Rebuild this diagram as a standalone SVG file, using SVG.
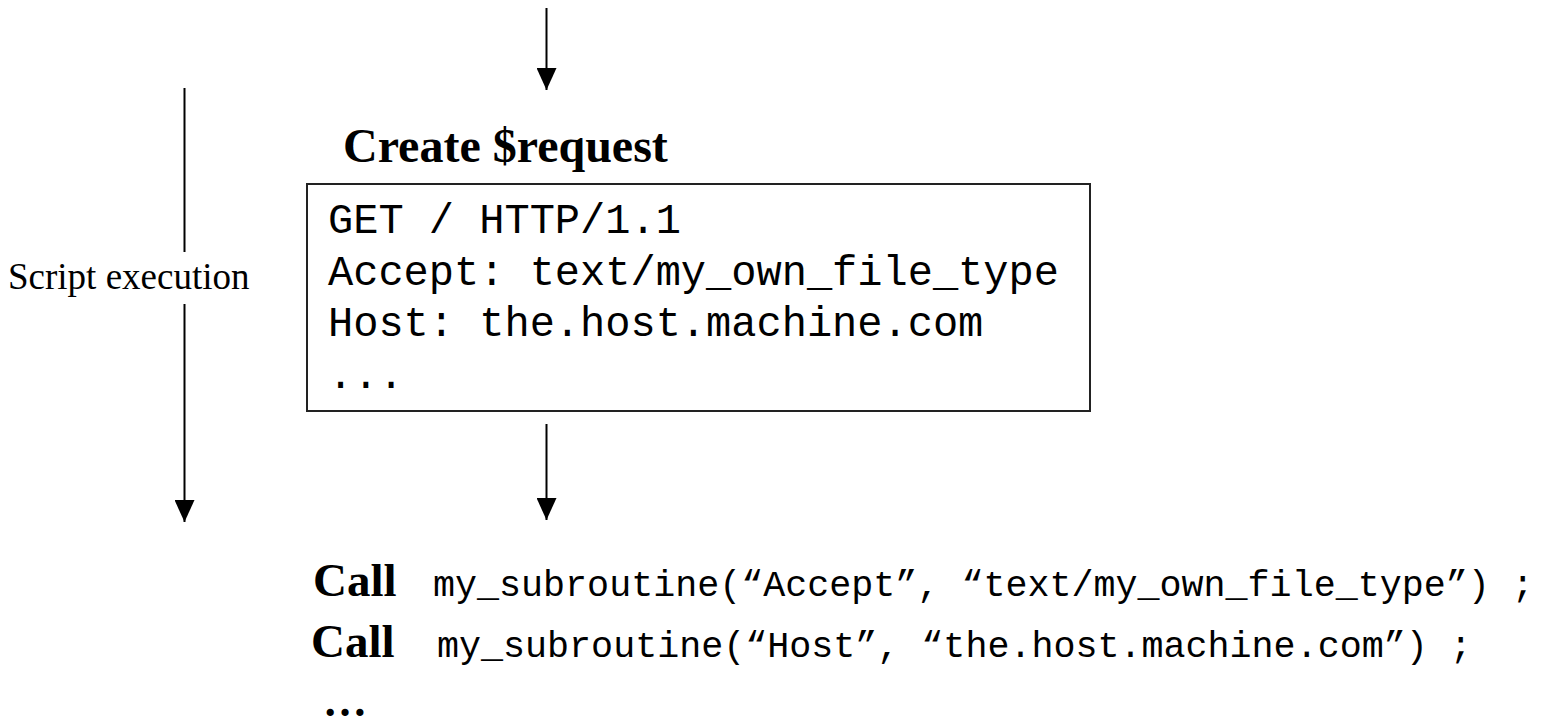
<svg xmlns="http://www.w3.org/2000/svg" width="1550" height="725" viewBox="0 0 1550 725">
  <defs>
    <marker id="head" markerUnits="userSpaceOnUse" markerWidth="22" markerHeight="20" viewBox="0 -10 22 20" refX="22" refY="0" orient="auto">
      <path d="M0,-10 L22,0 L0,10 z" fill="#000"/>
    </marker>
    <style>
      .wire { stroke: #000; stroke-width: 2; fill: none; }
      .serif { font-family: "Liberation Serif", "Times New Roman", serif; fill: #000; }
      .bold { font-weight: bold; }
      .mono { font-family: "Liberation Mono", "Courier New", monospace; fill: #000; }
      .box { fill: #fff; stroke: #222; stroke-width: 2; }
    </style>
  </defs>
  <rect width="1550" height="725" fill="#fff"/>

  <!-- connectors -->
  <g id="connectors">
    <line class="wire" x1="546.5" y1="8" x2="546.5" y2="90" marker-end="url(#head)"/>
    <line class="wire" x1="546.5" y1="424" x2="546.5" y2="520" marker-end="url(#head)"/>
    <line class="wire" x1="184.5" y1="88" x2="184.5" y2="252"/>
    <line class="wire" x1="184.5" y1="304" x2="184.5" y2="522" marker-end="url(#head)"/>
  </g>

  <!-- side label for the execution timeline -->
  <g id="timeline-label">
    <text class="serif" x="8" y="289" font-size="37">Script execution</text>
  </g>

  <!-- request object -->
  <g id="request">
    <text class="serif bold" x="343" y="162" font-size="48">Create $request</text>
    <rect class="box" x="307" y="184" width="783" height="227"/>
    <text class="mono" x="328" y="233" font-size="42">GET / HTTP/1.1</text>
    <text class="mono" x="328" y="284.5" font-size="42">Accept: text/my_own_file_type</text>
    <text class="mono" x="328" y="336" font-size="42">Host: the.host.machine.com</text>
    <text class="mono" x="328" y="387.5" font-size="42">...</text>
  </g>

  <!-- subroutine calls -->
  <g id="calls">
    <text class="serif bold" x="313" y="596" font-size="47">Call</text>
    <text class="mono" x="433" y="596" font-size="36.7">my_subroutine(“Accept”, “text/my_own_file_type”) ;</text>
    <text class="serif bold" x="311" y="657" font-size="47">Call</text>
    <text class="mono" x="437" y="657" font-size="36.7">my_subroutine(“Host”, “the.host.machine.com”) ;</text>
    <text class="serif bold" x="323" y="716" font-size="44">…</text>
  </g>
</svg>
